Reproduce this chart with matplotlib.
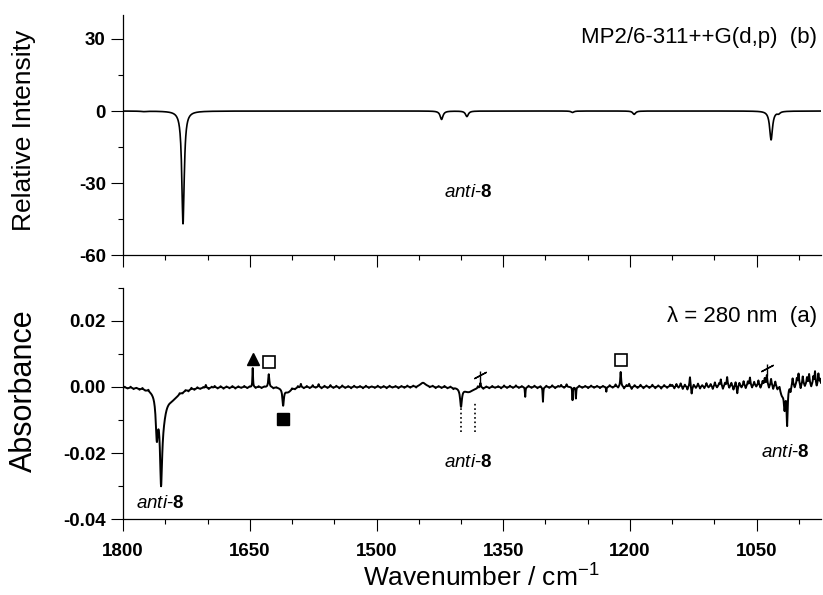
import numpy as np
import matplotlib
matplotlib.use("Agg")
import matplotlib.pyplot as plt
from matplotlib.ticker import MultipleLocator, FormatStrFormatter

# calculated spectrum (b): band positions / cm-1, intensities, widths (FWHM)
calc_pos = [1775, 1729, 1423, 1393, 1268, 1195, 1033, 1024]
calc_amp = [-0.2, -47.0, -3.5, -2.3, -0.6, -1.4, -12.0, -0.8]
calc_wid = [8, 3.5, 4, 4, 4, 4, 4, 4]

# experimental difference spectrum (a): bands
exp_pos = [1760, 1755, 1753, 1742, 1646.5, 1627.5, 1610.5, 1605, 1445, 1400, 1391,
           1324, 1303, 1268, 1264, 1228, 1211, 1017, 1014, 1020, 1000]
exp_amp = [-0.012, -0.022, -0.007, -0.003, 0.0058, 0.0040, -0.005, -0.0015, 0.0013,
           -0.0055, -0.0015, -0.003, -0.0045, -0.004, -0.0035, -0.0015, 0.0045,
           -0.006, -0.0115, -0.003, 0.0009]
exp_wid = [3, 3, 9, 22, 0.8, 1.5, 2, 10, 8, 2.5, 14, 0.8, 0.8, 0.8, 0.8, 0.8, 1.2,
           2, 1.5, 6, 120]

# small noise spikes (position, absorbance)
noise_pos = [1798, 1794.5, 1791, 1787.5, 1784, 1780.5, 1777, 1773.5, 1770,
             1733, 1729.5, 1726, 1722.5, 1719, 1715.5, 1712, 1708.5, 1705, 1702, 1698.5,
             1695, 1691.5, 1688, 1684.5, 1681, 1677.5, 1674, 1670.5, 1667, 1663.5, 1660,
             1656.5, 1653, 1650, 1643, 1639.5, 1636, 1632.5, 1622, 1618.5,
             1600, 1596.5, 1593, 1589.5, 1586, 1582.5, 1579, 1575.5, 1572, 1568.5, 1565,
             1561.5, 1558, 1554.5, 1551, 1547.5, 1544, 1540.5, 1537, 1533.5, 1530,
             1526.5, 1523, 1519.5, 1516, 1512.5, 1509, 1505.5, 1502, 1498.5, 1495,
             1491.5, 1488, 1484.5, 1481, 1477.5, 1474, 1470.5, 1467, 1463.5, 1460,
             1456.5, 1453,
             1437, 1433.5, 1430, 1426.5, 1423, 1419.5, 1416, 1412.5, 1409,
             1380, 1377, 1373.5, 1370, 1366.5, 1363, 1359.5, 1356, 1352.5, 1349, 1345.5,
             1342, 1338.5, 1335, 1331.5, 1328, 1320, 1316.5, 1313, 1309.5, 1306, 1299,
             1295.5, 1292, 1288.5, 1285, 1281.5, 1278, 1275, 1260, 1256.5, 1253, 1249.5,
             1246, 1242.5, 1239, 1235.5, 1232, 1224, 1220.5, 1217, 1214, 1207, 1204,
             1201, 1198, 1194.5, 1191, 1187.5, 1184, 1180.5, 1177, 1173.5, 1170, 1166.5,
             1163, 1159.5, 1156, 1152.5,
             1150, 1147.5, 1145, 1142.5, 1140, 1137.5, 1135, 1132, 1129, 1127, 1124.5,
             1122, 1119.5, 1117, 1114.5, 1112, 1109.5, 1107, 1104.5, 1102, 1099.5, 1097,
             1094.5, 1092.5, 1090, 1087.5, 1085, 1082.5, 1080, 1077.5, 1075, 1073,
             1070.5, 1068, 1065.5, 1063, 1060.5, 1058, 1055.5, 1053, 1050.5, 1048,
             1045.5, 1043, 1040.5, 1038, 1035.5, 1033, 1030.5, 1028, 1025.5, 1023,
             1010, 1007.5, 1005, 1002.5, 1000.5, 998, 995.5, 993, 990.5, 988, 985.5,
             983, 981, 979, 977, 975]
noise_amp = [0.0003, -0.0002, 0.0004, -0.0003, 0.0002, -0.0003, 0.0004, -0.0002, 0.0005,
             0.0004, -0.0003, 0.0003, -0.0004, 0.0005, -0.0003, 0.0004, -0.0002, 0.0003,
             0.0009, -0.0004, 0.0003, 0.0005, -0.0003, 0.0004, -0.0004, 0.0003, -0.0003,
             0.0004, -0.0004, 0.0003, -0.0002, 0.0004, -0.0003, 0.0002, -0.0003, 0.0003,
             -0.0003, 0.0002, -0.0003, 0.0002,
             0.0004, -0.0003, 0.0005, 0.0011, -0.0003, 0.0004, -0.0003, 0.0006, -0.0002,
             0.0009, -0.0004, 0.0004, -0.0003, 0.0006, -0.0003, 0.0004, -0.0004, 0.0005,
             -0.0003, 0.0003, -0.0004, 0.0004, -0.0002, 0.0003, -0.0004, 0.0004, -0.0003,
             0.0002, -0.0003, 0.0004, -0.0003, 0.0003, -0.0004, 0.0004, -0.0002, 0.0003,
             -0.0004, 0.0003, -0.0003, 0.0004, -0.0003, 0.0003, -0.0004,
             -0.0003, 0.0003, -0.0004, 0.0003, -0.0003, 0.0004, -0.0003, 0.0003, -0.0004,
             0.0006, 0.0015, -0.0004, 0.0003, -0.0003, 0.0004, -0.0002, 0.0003, -0.0004,
             0.0005, -0.0003, 0.0004, -0.0003, 0.0005, -0.0003, 0.0003, 0.0004, -0.0003,
             0.0004, -0.0004, 0.0003, 0.0004, -0.0003, 0.0005, -0.0004, 0.0003, 0.0006,
             -0.0003, 0.0008, 0.0004, -0.0003, 0.0003, -0.0004, 0.0004, -0.0003, 0.0003,
             -0.0004, 0.0003, 0.0005, -0.0003, 0.0007, -0.0004, -0.0006, 0.0005, 0.0009,
             -0.0007, 0.0005, -0.0004, 0.0006, -0.0005, 0.0004, -0.0004, 0.0006, -0.0005,
             0.0004, -0.0006, 0.0005, -0.0004, 0.0006,
             0.0005, -0.0006, 0.0008, -0.0004, 0.0010, -0.0008, 0.0006, -0.0010, 0.0030,
             -0.0024, 0.0006, -0.0005, 0.0009, -0.0007, 0.0004, -0.0006, 0.0010, -0.0004,
             0.0007, -0.0009, 0.0012, -0.0005, 0.0008, 0.0020, -0.0010, 0.0009, 0.0027,
             -0.0007, 0.0010, -0.0012, 0.0013, -0.0024, 0.0010, -0.0006, 0.0014, -0.0009,
             0.0012, 0.0024, -0.0008, 0.0011, -0.0005, 0.0015, -0.0009, 0.0012, 0.0020,
             0.0030, -0.0010, 0.0020, -0.0012, 0.0014, -0.0008, 0.0010,
             -0.0018, 0.0022, -0.0010, 0.0018, 0.0032, -0.0015, 0.0024, -0.0008, 0.0020,
             0.0030, -0.0010, 0.0022, 0.0038, -0.0010, 0.0032, 0.0015]

# band assignment marks in (a)
mark_tri = [1646.5, 0.0085]
mark_open = [[1627.5, 0.0076], [1210.5, 0.0082]]
mark_fill = [1610.5, -0.0097]
mark_slash = [[1377, 0.003], [1038, 0.0052]]
dotted_pos = [1400, 1383]


def lorentz(x, pos, amp, wid):
    y = np.zeros_like(x)
    for p, a, w in zip(pos, amp, wid):
        hw = w / 2.0
        y += a * hw ** 2 / ((x - p) ** 2 + hw ** 2)
    return y


plt.rcParams['font.family'] = ['Liberation Sans', 'DejaVu Sans']
plt.rcParams['mathtext.fontset'] = 'custom'
plt.rcParams['mathtext.rm'] = 'Liberation Sans'
plt.rcParams['mathtext.it'] = 'Liberation Sans:italic'
plt.rcParams['mathtext.bf'] = 'Liberation Sans:bold'
plt.rcParams['axes.unicode_minus'] = False

wn = np.arange(974, 1800.01, 0.25)
calc = lorentz(wn, calc_pos, calc_amp, calc_wid)
exp = lorentz(wn, exp_pos, exp_amp, exp_wid)
exp += lorentz(wn, noise_pos, noise_amp, [1.2] * len(noise_pos))

fig = plt.figure(figsize=(8.23, 5.95), dpi=100)
ax1 = fig.add_axes([0.1495, 0.5714, 0.848, 0.4034])
ax2 = fig.add_axes([0.1495, 0.1277, 0.848, 0.3883])

for ax in (ax1, ax2):
    ax.spines['top'].set_visible(False)
    ax.spines['right'].set_visible(False)
    for s in ('left', 'bottom'):
        ax.spines[s].set_linewidth(0.9)
    ax.set_xlim(1800, 974)
    ax.xaxis.set_major_locator(MultipleLocator(150))
    ax.xaxis.set_minor_locator(MultipleLocator(50))
    ax.tick_params(which='major', direction='out', length=8.4, width=0.8)
    ax.tick_params(which='minor', direction='out', length=3.6, width=0.8)
    ax.tick_params(axis='y', pad=4)
    ax.tick_params(axis='x', pad=9)

# (b) calculated
ax1.plot(wn, calc, color='black', lw=1.2)
ax1.set_ylim(-60, 40)
ax1.yaxis.set_major_locator(MultipleLocator(30))
ax1.yaxis.set_minor_locator(MultipleLocator(15))
ax1.yaxis.set_major_formatter(FormatStrFormatter('%d'))
ax1.tick_params(labelbottom=False)
ax1.text(0.995, 0.905, 'MP2/6-311++G(d,p)  (b)', transform=ax1.transAxes,
         ha='right', va='center', fontsize=16)
anti = r'$\mathit{anti}$-$\mathbf{8}$'
ax1.text(1392, -34, anti, ha='center', va='center', fontsize=13.5)

# (a) experiment
ax2.plot(wn, exp, color='black', lw=1.4)
ax2.set_ylim(-0.04, 0.03)
ax2.yaxis.set_major_locator(MultipleLocator(0.02))
ax2.yaxis.set_minor_locator(MultipleLocator(0.01))
ax2.yaxis.set_major_formatter(FormatStrFormatter('%.2f'))
ax2.text(0.995, 0.875, 'λ = 280 nm  (a)', transform=ax2.transAxes,
         ha='right', va='center', fontsize=16)

ax2.plot(mark_tri[0], mark_tri[1], marker='^', color='black', ms=9, ls='none')
ax2.plot(mark_fill[0], mark_fill[1], marker='s', color='black', ms=8, ls='none')
for x, y in mark_open:
    ax2.plot(x, y, marker='s', mfc='white', mec='black', mew=1.2, ms=8, ls='none')
for x, y in mark_slash:
    ax2.plot(x, y, marker='|', color='black', ms=9, mew=1.0, ls='none')
    ax2.plot(x, y + 0.0005, marker=(2, 2, -62), color='black', ms=10, mew=1.0, ls='none')
ax2.vlines(dotted_pos, -0.0136, -0.0048, colors='black', linestyles=':', lw=1.2)

ax2.text(1756, -0.0352, anti, ha='center', va='center', fontsize=13.5)
ax2.text(1392, -0.023, anti, ha='center', va='center', fontsize=13.5)
ax2.text(1016, -0.0197, anti, ha='center', va='center', fontsize=13.5)

for ax in (ax1, ax2):
    for lab in ax.get_xticklabels() + ax.get_yticklabels():
        lab.set_fontweight('bold')
        lab.set_fontsize(13.5)

fig.text(24 / 823, 1 - 130 / 595, 'Relative Intensity', rotation=90,
         ha='center', va='center', fontsize=19)
fig.text(24 / 823, 1 - 391 / 595, 'Absorbance', rotation=90,
         ha='center', va='center', fontsize=22)
fig.text(481 / 823, 1 - 578 / 595, r'Wavenumber / cm$^{-1}$',
         ha='center', va='center', fontsize=19)

fig.savefig('out.png', dpi=100)
